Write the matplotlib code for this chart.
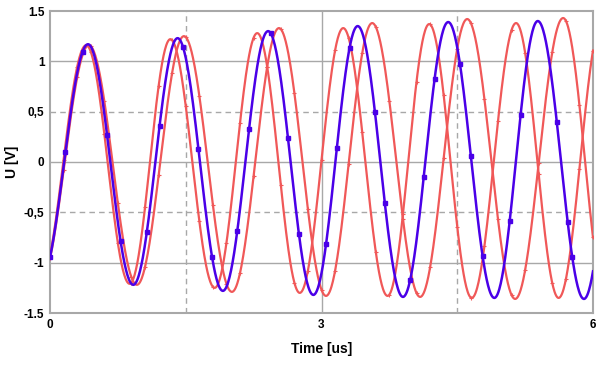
import numpy as np
import matplotlib
matplotlib.use("Agg")
import matplotlib.pyplot as plt

# extrema (time in us, voltage in V)
blue_t = [-0.11, 0.42, 0.92, 1.41, 1.91, 2.41, 2.91, 3.40, 3.90, 4.40, 4.91, 5.39, 5.90, 6.39]
blue_v = [-1.19, 1.17, -1.22, 1.23, -1.28, 1.30, -1.32, 1.35, -1.34, 1.39, -1.35, 1.40, -1.36, 1.40]

red_fast_t = [-0.11, 0.40, 0.88, 1.33, 1.82, 2.29, 2.76, 3.24, 3.73, 4.19, 4.66, 5.15, 5.62, 6.10]
red_fast_v = [-1.19, 1.16, -1.21, 1.22, -1.25, 1.28, -1.30, 1.33, -1.33, 1.37, -1.35, 1.38, -1.35, 1.39]

red_slow_t = [-0.11, 0.43, 0.96, 1.48, 2.01, 2.53, 3.05, 3.56, 4.09, 4.61, 5.14, 5.67, 6.15]
red_slow_v = [-1.19, 1.16, -1.22, 1.25, -1.29, 1.33, -1.33, 1.38, -1.34, 1.42, -1.36, 1.43, -1.37]

# measured points drawn as squares on the blue trace
blue_marker_t = [0, 0.17, 0.36, 0.63, 0.78, 1.07, 1.21, 1.47, 1.64, 1.79, 2.07, 2.20,
                 2.44, 2.63, 2.75, 3.05, 3.17, 3.31, 3.59, 3.70, 3.98, 4.13, 4.25,
                 4.53, 4.65, 4.78, 5.08, 5.20, 5.60, 5.72, 5.77]

xticks = [0, 3, 6]
yticks = [-1.5, -1, -0.5, 0, 0.5, 1, 1.5]
ytick_labels = ['-1.5', '-1', '-0,5', '0', '0,5', '1', '1.5']


def trace(te, ve, t):
    # smooth half-cosine arcs between successive extrema
    te = np.asarray(te)
    ve = np.asarray(ve)
    i = np.clip(np.searchsorted(te, t) - 1, 0, len(te) - 2)
    f = (t - te[i]) / (te[i + 1] - te[i])
    return ve[i] + (ve[i + 1] - ve[i]) * (1 - np.cos(np.pi * f)) / 2


t = np.linspace(0, 6, 1201)

plt.rcParams['font.family'] = ['Liberation Sans', 'DejaVu Sans']

fig = plt.figure(figsize=(6.04, 3.65), dpi=100)
ax = fig.add_axes([50 / 604, 1 - 313 / 365, 543 / 604, 302 / 365])

grid_c = '#a8a8a8'
for y in [-1, 0, 1]:
    ax.axhline(y, color=grid_c, lw=1, zorder=1)
for y in [-0.5, 0.5]:
    ax.axhline(y, color=grid_c, lw=1, ls=(0, (4, 3)), zorder=1)
ax.axvline(3, color=grid_c, lw=1, zorder=1)
for x in [1.5, 4.5]:
    ax.axvline(x, color=grid_c, lw=1, ls=(0, (4, 3)), zorder=1)

red = '#f05858'
blue = '#4a00e8'
ax.plot(t, trace(red_slow_t, red_slow_v, t), color=red, lw=1.6, zorder=3,
        marker='+', markersize=3, markeredgewidth=0.8, markevery=30)
ax.plot(t, trace(red_fast_t, red_fast_v, t), color=red, lw=1.6, zorder=3,
        marker='+', markersize=3, markeredgewidth=0.8, markevery=30)
ax.plot(t, trace(blue_t, blue_v, t), color=blue, lw=1.8, zorder=4)
bm = np.array(blue_marker_t)
ax.plot(bm, trace(blue_t, blue_v, bm), ls='none', marker='s', markersize=2.6,
        color=blue, zorder=5)

ax.set_xlim(0, 6)
ax.set_ylim(-1.5, 1.5)
ax.set_xticks(xticks)
ax.set_xticklabels([str(x) for x in xticks], fontsize=8.5, fontweight='bold')
ax.set_yticks(yticks)
ax.set_yticklabels(ytick_labels, fontsize=8.5, fontweight='bold')
ax.tick_params(length=0, pad=4)
for s in ax.spines.values():
    s.set_color(grid_c)
    s.set_linewidth(1.5)

ax.set_xlabel('Time [us]', fontsize=10, fontweight='bold', labelpad=8)
ax.set_ylabel('U [V]', fontsize=10, fontweight='bold')
ax.yaxis.set_label_coords(-0.058, 0.5)

fig.savefig('out.png', dpi=100)
